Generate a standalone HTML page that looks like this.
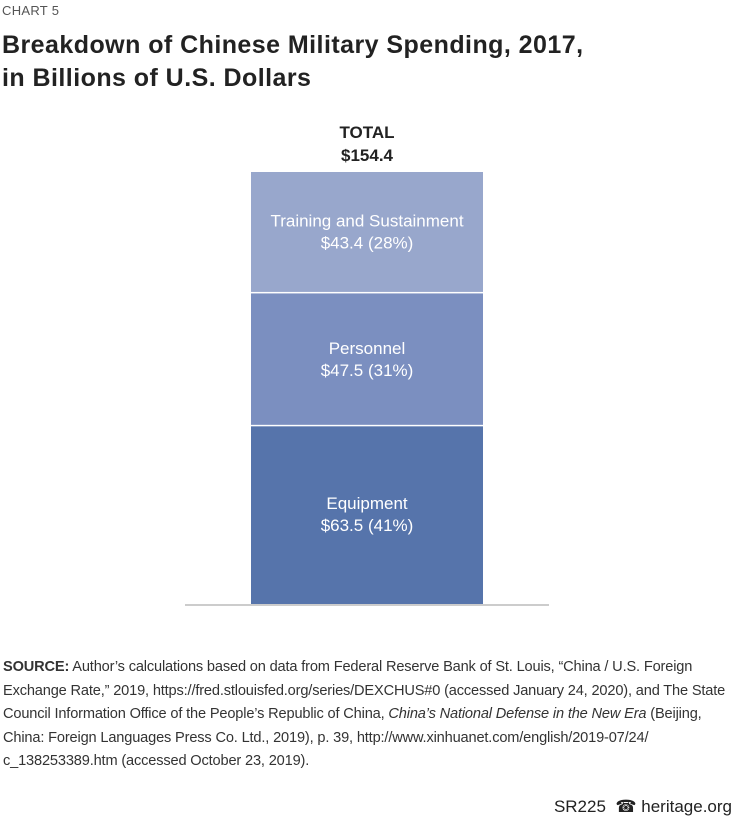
<!DOCTYPE html>
<html><head><meta charset="utf-8"><style>
body{margin:0;width:734px;height:819px;background:#fff;font-family:"Liberation Sans",sans-serif;position:relative;overflow:hidden;color:#222}
.abs{position:absolute;white-space:nowrap}
#src{left:3px;top:656px;font-size:14.6px;line-height:23.5px;color:#333;letter-spacing:-0.16px}
</style></head><body>
<div class="abs" style="left:2px;top:3px;font-size:13px;color:#555;letter-spacing:0.3px">CHART 5</div>
<div class="abs" style="left:2px;top:29px;font-size:25px;font-weight:bold;line-height:33px;letter-spacing:0.45px;color:#222">Breakdown of Chinese Military Spending, 2017,<br>in Billions of U.S. Dollars</div>
<svg id="chart" width="734" height="640" style="position:absolute;left:0;top:0"></svg>
<div id="src" class="abs"><b>SOURCE:</b> Author’s calculations based on data from Federal Reserve Bank of St. Louis, “China / U.S. Foreign<br>Exchange Rate,” 2019, https://fred.stlouisfed.org/series/DEXCHUS#0 (accessed January 24, 2020), and The State<br>Council Information Office of the People’s Republic of China, <i>China’s National Defense in the New Era</i> (Beijing,<br>China: Foreign Languages Press Co. Ltd., 2019), p. 39, http://www.xinhuanet.com/english/2019-07/24/<br>c_138253389.htm (accessed October 23, 2019).</div>
<div class="abs" style="right:2px;top:797px;font-size:17px;color:#222">SR225 &nbsp;☎ heritage.org</div>
<script>
const categories=["Equipment","Personnel","Training and Sustainment"];
const values=[63.5,47.5,43.4];
const percents=[41,31,28];
const total=154.4;
const colors=["#5674ab","#7b8fc0","#98a7cc"];
const svg=document.getElementById('chart');
const NS="http://www.w3.org/2000/svg";
const base=604, topY=172, x0=251, w=232;
const y=v=>base-(v/total)*(base-topY);
function mk(t,a){const e=document.createElementNS(NS,t);for(const k in a)e.setAttribute(k,a[k]);svg.appendChild(e);return e;}
let cum=0;
categories.forEach((c,i)=>{
 const y1=y(cum), y2=y(cum+values[i]);
 const r=mk('rect',{x:x0,y:y2,width:w,height:y1-y2-(i>0?1.5:0),fill:colors[i]});
 
 
 const mid=(y1+y2)/2;
 const t1=mk('text',{x:x0+w/2,y:mid-6,'text-anchor':'middle','font-size':17,fill:'#fff'});t1.textContent=c;
 
 
 const t2=mk('text',{x:x0+w/2,y:mid+16,'text-anchor':'middle','font-size':17,fill:'#fff'});t2.textContent='$'+values[i].toFixed(1)+' ('+percents[i]+'%)';
 
 
 cum+=values[i];
});
const bl=mk('line',{x1:185,x2:549,y1:base+1,y2:base+1,stroke:'#999','stroke-width':1});


const tt=mk('text',{x:x0+w/2,y:y(total)-34,'text-anchor':'middle','font-size':17,'font-weight':'bold',fill:'#222'});tt.textContent='TOTAL';


const tv=mk('text',{x:x0+w/2,y:y(total)-11,'text-anchor':'middle','font-size':17,'font-weight':'bold',fill:'#222'});tv.textContent='$'+total.toFixed(1);


</script>
</body></html>
